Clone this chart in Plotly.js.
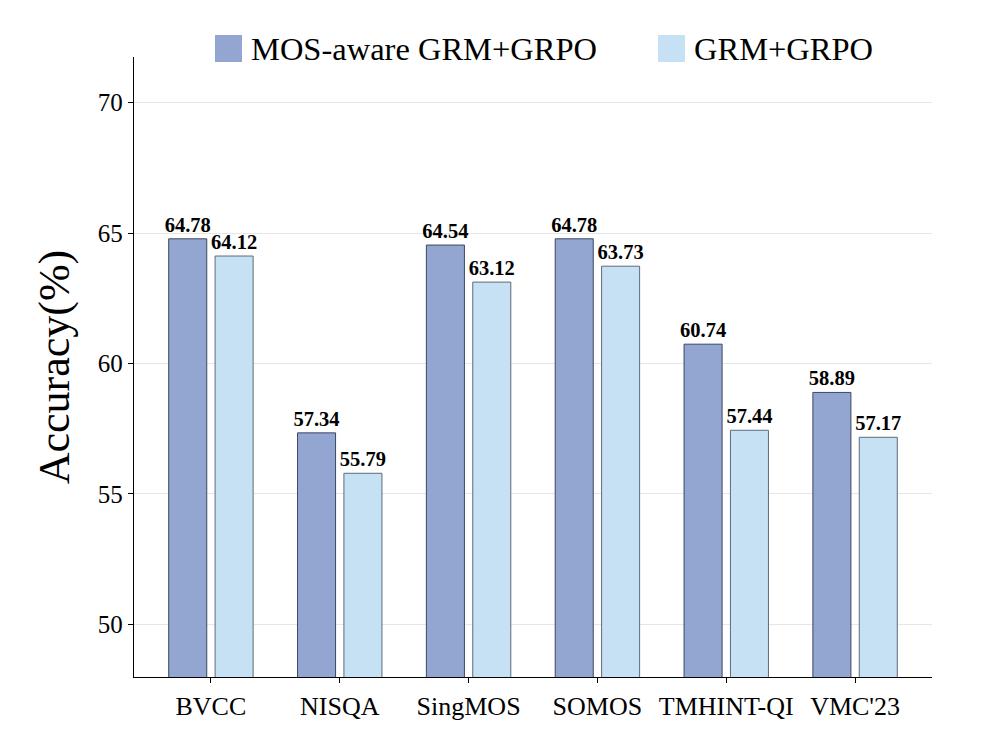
<!DOCTYPE html>
<html>
<head>
<meta charset="utf-8">
<script src="https://cdn.plot.ly/plotly-3.0.1.min.js"></script>
<style>html,body{margin:0;padding:0;background:#fff;}#chart{width:996px;height:738px;}</style>
</head>
<body>
<div id="chart"></div>
<script>
const categories = ["BVCC", "NISQA", "SingMOS", "SOMOS", "TMHINT-QI", "VMC'23"];
const seriesNames = ["MOS-aware GRM+GRPO", "GRM+GRPO"];
const mosAware = [64.78, 57.34, 64.54, 64.78, 60.74, 58.89];
const grmGrpo = [64.12, 55.79, 63.12, 63.73, 57.44, 57.17];
const yTicks = [50, 55, 60, 65, 70];

const W = 996, H = 738;
const M = {l: 134, r: 64, t: 57, b: 61};
const FONT = "Liberation Serif, Times New Roman, serif";
const colors = ["#93a6d2", "#c6e0f4"];
const edges = ["#3d4660", "#5d6b7a"];

function px2x(px) { return (px - M.l) / (W - M.l - M.r); }
function py2y(py) { return (H - M.b - py) / (H - M.t - M.b); }

const traces = [mosAware, grmGrpo].map((vals, i) => ({
  type: "bar",
  x: categories,
  y: vals,
  name: seriesNames[i],
  marker: {color: colors[i], line: {color: edges[i], width: 1}},
  texttemplate: "%{y:.2f}",
  textposition: "outside",
  constraintext: "none",
  textfont: {family: FONT, size: 20.5, weight: "bold", color: "#000"},
  cliponaxis: false,
  showlegend: false,
  hoverinfo: "skip"
}));

// manual legend (large swatches)
const legendItems = [
  {sx0: 215, sx1: 242, tx: 249},
  {sx0: 658, sx1: 685, tx: 692}
];
const shapes = legendItems.map((it, i) => ({
  type: "rect", xref: "paper", yref: "paper",
  x0: px2x(it.sx0), x1: px2x(it.sx1), y0: py2y(62), y1: py2y(35),
  fillcolor: colors[i], line: {width: 0}
}));
const annotations = legendItems.map((it, i) => ({
  xref: "paper", yref: "paper", x: px2x(it.tx), y: py2y(49),
  xanchor: "left", yanchor: "middle", showarrow: false,
  text: seriesNames[i], font: {family: FONT, size: 32.5, color: "#000"}
}));

const layout = {
  width: W, height: H,
  margin: M,
  paper_bgcolor: "#fff", plot_bgcolor: "#fff",
  barmode: "group",
  bargap: 0.28,
  bargroupgap: 0.18,
  font: {family: FONT, color: "#000"},
  showlegend: false,
  xaxis: {
    type: "category",
    range: [-0.597, 5.597],
    showline: true, linecolor: "#000", linewidth: 1.3,
    ticks: "outside", ticklen: 5, tickcolor: "#000", tickwidth: 1,
    tickfont: {family: FONT, size: 26, color: "#000"},
    showgrid: false, zeroline: false
  },
  yaxis: {
    range: [47.98, 71.75],
    tickvals: yTicks,
    showline: true, linecolor: "#000", linewidth: 1.3,
    ticks: "outside", ticklen: 5, tickcolor: "#000", tickwidth: 1,
    tickfont: {family: FONT, size: 25, color: "#000"},
    showgrid: true, gridcolor: "#e6e6e6", gridwidth: 1,
    zeroline: false,
    title: {text: "Accuracy(%)", font: {family: FONT, size: 44, color: "#000"}, standoff: 14}
  },
  shapes: shapes,
  annotations: annotations
};

Plotly.newPlot("chart", traces, layout, {displayModeBar: false, staticPlot: true});
</script>
</body>
</html>
